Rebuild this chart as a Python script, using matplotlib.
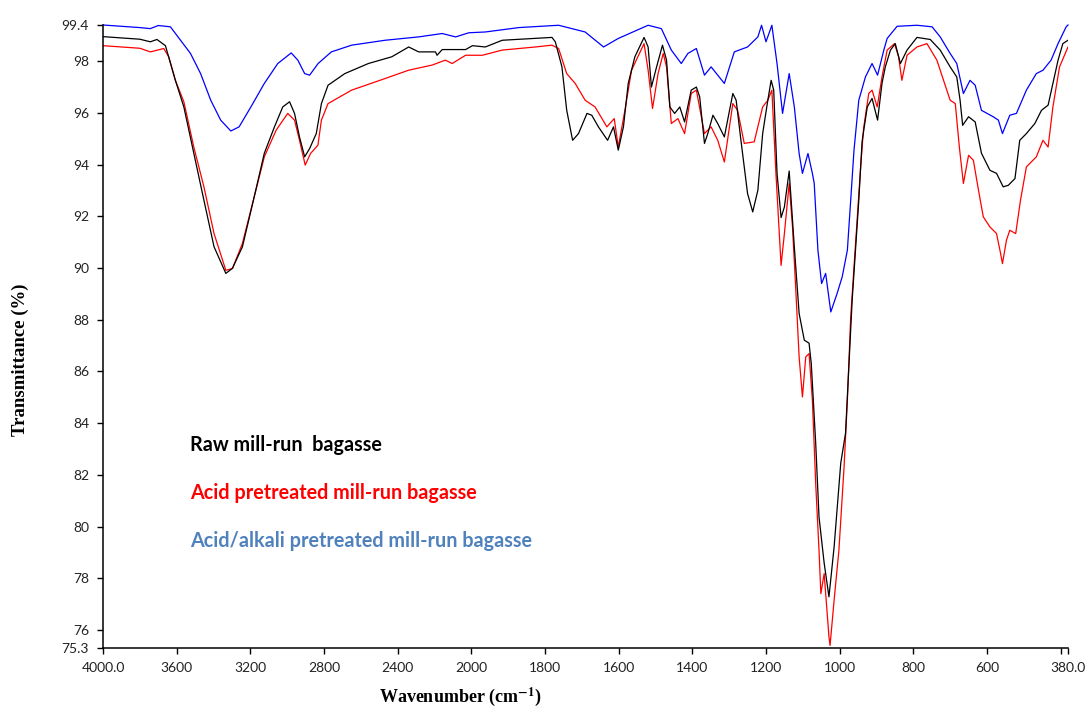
import numpy as np
import matplotlib
matplotlib.use("Agg")
import matplotlib.pyplot as plt

# ── Spectra (wavenumber cm-1, transmittance %) ──
raw_wn = [4000, 3900, 3800, 3743, 3707, 3661, 3607, 3561, 3507, 3452, 3397, 3333, 3297,
          3243, 3179, 3124, 3069, 3024, 2987, 2960, 2933, 2905, 2878, 2842, 2814, 2778,
          2687, 2559, 2432, 2340, 2286, 2195, 2186, 2158, 2031, 1997, 1962, 1916, 1781,
          1772, 1754, 1741, 1725, 1709, 1686, 1673, 1655, 1630, 1614, 1601, 1587, 1574,
          1556, 1531, 1520, 1511, 1497, 1481, 1470, 1461, 1448, 1434, 1421, 1403, 1389,
          1380, 1367, 1358, 1344, 1331, 1313, 1290, 1281, 1268, 1250, 1236, 1222, 1209,
          1195, 1186, 1179, 1170, 1159, 1150, 1137, 1123, 1110, 1096, 1083, 1077, 1065,
          1056, 1042, 1029, 1015, 997, 984, 975, 966, 957, 948, 939, 925, 912, 897, 885,
          876, 862, 849, 835, 817, 790, 754, 727, 700, 682, 673, 666, 650, 632, 615, 592,
          574, 556, 542, 524, 511, 493, 470, 452, 434, 421, 407, 394, 380]
raw_t = [98.95, 98.9, 98.85, 98.75, 98.84, 98.6, 97.26, 96.23, 94.44, 92.62, 90.82, 89.79, 89.99,
         90.82, 92.75, 94.44, 95.46, 96.23, 96.43, 95.98, 95.07, 94.3, 94.62, 95.2, 96.36, 97.07,
         97.52, 97.91, 98.17, 98.55, 98.36, 98.36, 98.23, 98.45, 98.45, 98.6, 98.55, 98.81, 98.92,
         98.75, 97.78, 96.1, 94.94, 95.2, 95.98, 95.91, 95.46, 94.94, 95.46, 94.56, 95.46, 97.14,
         98.17, 98.92, 98.55, 97.0, 97.78, 98.62, 98.04, 96.23, 95.98, 96.23, 95.65, 96.88, 97.0,
         96.62, 94.82, 95.2, 95.91, 95.59, 95.07, 96.75, 96.49, 94.94, 92.88, 92.17, 93.01, 95.2,
         96.49, 97.26, 96.88, 93.67, 91.95, 92.36, 93.75, 90.8, 88.24, 87.21, 87.09, 86.3, 83.22,
         80.37, 78.58, 77.28, 79.21, 82.45, 83.61, 86.17, 88.75, 90.69, 92.62, 94.9, 96.23, 96.56,
         95.72, 97.14, 97.78, 98.43, 98.68, 97.91, 98.43, 98.92, 98.84, 98.43, 97.78, 97.39, 96.49,
         95.52, 95.85, 95.65, 94.44, 93.78, 93.66, 93.14, 93.2, 93.46, 94.94, 95.2, 95.59, 96.1,
         96.3, 97.14, 98.04, 98.68, 98.81]

acid_wn = [4000, 3900, 3800, 3743, 3670, 3643, 3607, 3561, 3507, 3452, 3397, 3333, 3297, 3243,
           3179, 3124, 3060, 2997, 2960, 2933, 2902, 2873, 2833, 2814, 2778, 2650, 2468, 2341,
           2213, 2141, 2104, 2031, 1970, 1916, 1826, 1781, 1763, 1741, 1718, 1691, 1664, 1632,
           1612, 1601, 1583, 1565, 1531, 1520, 1508, 1493, 1479, 1470, 1457, 1439, 1421, 1403,
           1389, 1367, 1349, 1331, 1313, 1290, 1277, 1259, 1232, 1209, 1195, 1184, 1173, 1159,
           1150, 1137, 1128, 1119, 1110, 1101, 1092, 1083, 1074, 1065, 1056, 1051, 1042, 1029,
           1026, 1015, 1002, 988, 979, 970, 961, 952, 943, 935, 921, 912, 898, 885, 871, 851,
           840, 831, 817, 790, 763, 736, 718, 700, 686, 675, 664, 650, 637, 623, 610, 592, 574,
           563, 558, 547, 538, 522, 509, 493, 466, 448, 434, 421, 403, 380]
acid_t = [98.6, 98.55, 98.5, 98.36, 98.49, 98.17, 97.26, 96.43, 94.68, 93.14, 91.33, 89.91, 89.98,
          90.95, 92.75, 94.3, 95.33, 95.98, 95.72, 94.94, 93.98, 94.43, 94.75, 95.72, 96.36, 96.88,
          97.33, 97.65, 97.85, 98.04, 97.91, 98.23, 98.23, 98.43, 98.55, 98.62, 98.49, 97.52, 97.14,
          96.49, 96.23, 95.46, 95.78, 94.68, 96.1, 97.65, 98.68, 97.65, 96.17, 97.52, 98.3, 97.78,
          95.59, 95.78, 95.2, 96.75, 96.88, 95.2, 95.46, 94.94, 94.1, 96.36, 96.1, 94.82, 94.88,
          96.23, 96.49, 96.88, 93.67, 90.1, 91.33, 93.27, 91.59, 89.14, 86.56, 85.01, 86.56, 86.69,
          84.88, 81.66, 79.08, 77.4, 78.18, 75.73, 75.4, 77.15, 79.08, 82.3, 84.88, 88.1, 90.04,
          91.98, 93.91, 95.4, 96.75, 96.88, 96.23, 97.39, 98.43, 98.68, 98.17, 97.26, 98.23, 98.55,
          98.68, 98.04, 97.26, 96.49, 96.36, 94.68, 93.27, 94.36, 94.17, 93.01, 91.98, 91.59, 91.33,
          90.56, 90.17, 91.08, 91.46, 91.33, 92.62, 93.91, 94.3, 94.94, 94.68, 96.23, 97.78, 98.55]

alk_wn = [4000, 3900, 3800, 3743, 3700, 3634, 3579, 3525, 3470, 3415, 3361, 3306, 3261, 3197,
          3124, 3051, 2978, 2942, 2905, 2878, 2832, 2760, 2650, 2468, 2286, 2158, 2085, 2013,
          1962, 1871, 1763, 1691, 1641, 1601, 1520, 1484, 1457, 1430, 1412, 1389, 1367, 1349,
          1331, 1313, 1286, 1250, 1222, 1212, 1200, 1184, 1170, 1155, 1137, 1123, 1110, 1101,
          1086, 1074, 1069, 1059, 1049, 1038, 1024, 1007, 993, 979, 970, 961, 948, 930, 912,
          897, 880, 871, 844, 790, 749, 727, 700, 682, 664, 646, 632, 615, 583, 569, 558, 538,
          520, 493, 466, 448, 426, 407, 385, 380]
alk_t = [99.4, 99.35, 99.3, 99.26, 99.38, 99.33, 98.81, 98.3, 97.52, 96.49, 95.72, 95.3, 95.46,
         96.23, 97.14, 97.91, 98.32, 98.04, 97.52, 97.46, 97.91, 98.36, 98.62, 98.81, 98.94, 99.07,
         98.94, 99.1, 99.13, 99.3, 99.39, 99.13, 98.55, 98.88, 99.39, 99.26, 98.43, 97.91, 98.3,
         98.49, 97.46, 97.78, 97.46, 97.14, 98.36, 98.55, 98.94, 99.39, 98.75, 99.39, 97.91, 95.98,
         97.52, 96.23, 94.43, 93.66, 94.43, 93.66, 93.27, 90.69, 89.4, 89.79, 88.3, 89.01, 89.66,
         90.69, 92.62, 94.56, 96.49, 97.39, 97.91, 97.46, 98.43, 98.88, 99.35, 99.39, 99.33, 98.94,
         98.3, 97.91, 96.75, 97.26, 97.07, 96.1, 95.85, 95.72, 95.2, 95.91, 95.98, 96.88, 97.52,
         97.65, 98.04, 98.68, 99.33, 99.4]

x_ticks = [4000, 3600, 3200, 2800, 2400, 2000, 1800, 1600, 1400, 1200, 1000, 800, 600, 400, 380]
x_tick_labels = ["4000.0", "3600", "3200", "2800", "2400", "2000", "1800", "1600", "1400",
                 "1200", "1000", "800", "600", "", "380.0"]
y_ticks = [75.3, 76, 78, 80, 82, 84, 86, 88, 90, 92, 94, 96, 98, 99.4]
y_tick_labels = ["75.3", "76", "78", "80", "82", "84", "86", "88", "90", "92", "94", "96", "98", "99.4"]

series_names = ["Raw mill-run  bagasse", "Acid pretreated mill-run bagasse",
                "Acid/alkali pretreated mill-run bagasse"]


# FTIR-style abscissa: the region above 2000 cm-1 is compressed by a factor 2
def fwd(x):
    x = np.asarray(x, dtype=float)
    return np.where(x > 2000, 2000 + (x - 2000) / 2.0, x)


def inv(t):
    t = np.asarray(t, dtype=float)
    return np.where(t > 2000, 2000 + (t - 2000) * 2.0, t)


TICK_FONT = "Lato"
INK = "#222222"

fig = plt.figure(figsize=(10.9, 7.1), dpi=100)
ax = fig.add_axes([103 / 1090, 62 / 710, 965 / 1090, 623 / 710])

ax.plot(raw_wn, raw_t, color="black", lw=0.9, zorder=3)
ax.plot(acid_wn, acid_t, color="#FF0000", lw=0.9, zorder=2)
ax.plot(alk_wn, alk_t, color="#0000FF", lw=0.9, zorder=1, clip_on=False)

ax.set_xscale("function", functions=(fwd, inv))
ax.set_xlim(4000, 380)
ax.set_ylim(75.3, 99.4)

ax.set_xticks(x_ticks)
ax.set_xticklabels(x_tick_labels)
ax.set_yticks(y_ticks)
ax.set_yticklabels(y_tick_labels)
ax.minorticks_off()
for lab in ax.get_xticklabels() + ax.get_yticklabels():
    lab.set_fontfamily(TICK_FONT)
    lab.set_fontsize(10)
    lab.set_color(INK)
ax.tick_params(direction="out", length=4, width=1.0, color="black", pad=6)

ax.spines["top"].set_visible(False)
ax.spines["right"].set_visible(False)
for s in ("left", "bottom"):
    ax.spines[s].set_linewidth(1.1)

# in-plot series labels
label_colors = ["black", "#FF0000", "#4F81BD"]
label_y = [83.14, 81.3, 79.44]
for name, c, y in zip(series_names, label_colors, label_y):
    ax.text(3525, y, name, color=c, fontsize=14.2, fontweight="bold",
            fontfamily="Lato", va="center", ha="left")

fig.text(20 / 1090, 1 - 360 / 710, "Transmittance (%)", rotation=90, ha="center", va="center",
         fontsize=13.5, fontweight="bold", fontfamily="Liberation Serif")
matplotlib.rcParams["mathtext.fontset"] = "stix"
fig.text(460 / 1090, 1 - 697 / 710, r"Wavenumber (cm$^{\mathbf{-1}}$)", ha="center", va="center",
         fontsize=13, fontweight="bold", fontfamily="Liberation Serif")

fig.savefig("out.png", dpi=100)
